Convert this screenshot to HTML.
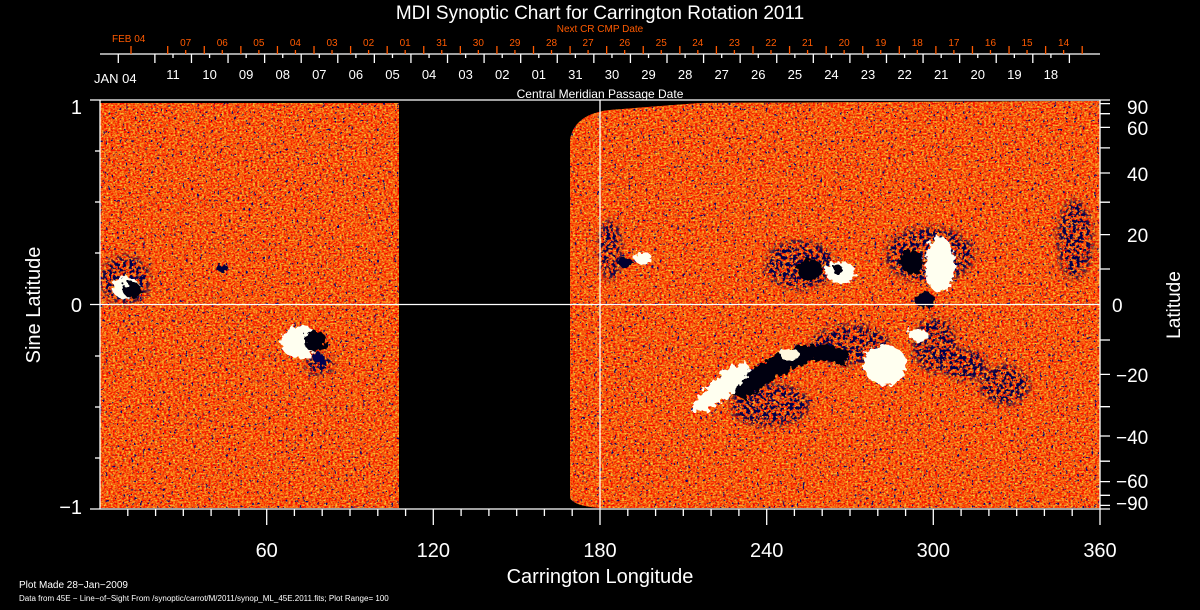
<!DOCTYPE html>
<html><head><meta charset="utf-8"><style>
html,body{margin:0;padding:0;background:#000;}
svg{display:block}
text{font-family:"Liberation Sans",sans-serif;}
filter{color-interpolation-filters:sRGB}
</style></head><body>
<svg width="1200" height="610" viewBox="0 0 1200 610" xmlns="http://www.w3.org/2000/svg">
<defs>
<filter id="tex" x="0" y="0" width="100%" height="100%" color-interpolation-filters="sRGB">
<feTurbulence type="fractalNoise" baseFrequency="0.45 0.6" numOctaves="2" seed="4" result="n"/>
<feColorMatrix in="n" type="matrix" values="0 0 0 0 0.97  1.6 0 0 0 -0.45  0.6 0 0 0 -0.25  0 0 0 0 1"/>
</filter>
<filter id="spk" x="0" y="0" width="100%" height="100%" color-interpolation-filters="sRGB">
<feTurbulence type="fractalNoise" baseFrequency="0.35" numOctaves="2" seed="9" result="n"/>
<feColorMatrix in="n" type="matrix" values="0 0 0 0 0.02  0 0 0 0 0.02  0 0 0 0 0.45  14 0 0 0 -9.35"/>
</filter>
<filter id="spk2" x="0" y="0" width="100%" height="100%" color-interpolation-filters="sRGB">
<feTurbulence type="fractalNoise" baseFrequency="0.3" numOctaves="2" seed="13" result="n"/>
<feColorMatrix in="n" type="matrix" values="0 0 0 0 0.0  0 0 0 0 0.0  0 0 0 0 0.3  12 0 0 0 -5.9"/>
</filter>
<filter id="blob" color-interpolation-filters="sRGB"><feTurbulence type="fractalNoise" baseFrequency="0.2" numOctaves="2" seed="2" result="t"/>
<feDisplacementMap in="SourceGraphic" in2="t" scale="10"/></filter>
<filter id="soft"><feGaussianBlur stdDeviation="3"/></filter>
<mask id="dm">
<g fill="#fff" filter="url(#soft)">
<ellipse cx="935" cy="345" rx="22" ry="28"/>
<ellipse cx="965" cy="365" rx="22" ry="16"/>
<ellipse cx="1005" cy="385" rx="25" ry="20"/>
<ellipse cx="1075" cy="240" rx="18" ry="40"/>
<ellipse cx="770" cy="405" rx="40" ry="22"/>
<ellipse cx="930" cy="255" rx="45" ry="28"/>
<ellipse cx="800" cy="265" rx="35" ry="25"/>
<ellipse cx="610" cy="250" rx="12" ry="30"/>
<ellipse cx="125" cy="280" rx="25" ry="25"/>
<ellipse cx="320" cy="365" rx="15" ry="10"/>
<ellipse cx="850" cy="345" rx="40" ry="20"/>
</g>
</mask>
<clipPath id="map">
<rect x="100" y="103" width="299" height="405"/>
<path d="M570,498 L570,140 Q574,114 610,110 L700,103 L1100,101 L1100,508 L600,508 Q574,506 570,498 Z"/>
</clipPath>
</defs>

<g clip-path="url(#map)">
<rect x="100" y="100" width="1000" height="410" fill="#f25416"/>
<rect x="100" y="100" width="1000" height="410" filter="url(#tex)"/>
<rect x="100" y="100" width="1000" height="410" filter="url(#spk)"/>
<g mask="url(#dm)"><rect x="100" y="100" width="1000" height="410" filter="url(#spk2)"/></g>
<g filter="url(#blob)">
<ellipse cx="126" cy="288" rx="14" ry="11" fill="#fffff0"/>
<ellipse cx="132" cy="290" rx="9" ry="8" fill="#000010"/>
<ellipse cx="300" cy="342" rx="20" ry="16" fill="#fffff0"/>
<circle cx="315" cy="341" r="11" fill="#000010"/>
<ellipse cx="318" cy="358" rx="6" ry="5" fill="#000050"/>
<ellipse cx="222" cy="268" rx="6" ry="4" fill="#000040"/>
<ellipse cx="643" cy="258" rx="9" ry="6" fill="#fffff0"/>
<ellipse cx="625" cy="262" rx="7" ry="5" fill="#000030"/>
<ellipse cx="810" cy="270" rx="13" ry="11" fill="#000010"/>
<ellipse cx="840" cy="272" rx="15" ry="11" fill="#fffff0"/>
<ellipse cx="838" cy="270" rx="5" ry="5" fill="#000010"/>
<ellipse cx="912" cy="262" rx="12" ry="12" fill="#000010"/>
<ellipse cx="940" cy="265" rx="15" ry="28" fill="#fffff0"/>
<ellipse cx="925" cy="300" rx="10" ry="8" fill="#000020"/>
<path d="M690,410 L700,395 L725,370 L745,360 L752,372 L735,392 L705,412 Z" fill="#fffff0"/>
<path d="M733,395 L750,370 L775,355 L800,345 L830,345 L850,352 L845,365 L815,360 L790,370 L765,385 L745,400 Z" fill="#000010"/>
<ellipse cx="885" cy="365" rx="22" ry="20" fill="#fffff0"/>
<ellipse cx="790" cy="355" rx="10" ry="6" fill="#fff8e0"/>
<ellipse cx="918" cy="335" rx="10" ry="6" fill="#fffff0"/>
</g>
</g>

<g stroke="#fff" stroke-width="1.3" fill="none">
<line x1="100" y1="100" x2="100" y2="509"/>
<line x1="1100" y1="100" x2="1100" y2="509"/>
<line x1="90" y1="509" x2="1100" y2="509"/>
<line x1="90" y1="100" x2="1100" y2="100"/>
<line x1="90" y1="304.5" x2="1100" y2="304.5"/>
<line x1="600" y1="100" x2="600" y2="509"/>
<line x1="100" y1="54" x2="1100" y2="54"/>
<line x1="95" y1="151" x2="100" y2="151"/>
<line x1="95" y1="202" x2="100" y2="202"/>
<line x1="95" y1="253" x2="100" y2="253"/>
<line x1="95" y1="356" x2="100" y2="356"/>
<line x1="95" y1="407" x2="100" y2="407"/>
<line x1="95" y1="458" x2="100" y2="458"/>
<path d="M127.8,509v7M155.6,509v7M183.3,509v7M211.1,509v7M238.9,509v7M266.7,509v16M294.4,509v7M322.2,509v7M350,509v7M377.8,509v7M405.6,509v7M433.3,509v16M461.1,509v7M488.9,509v7M516.7,509v7M544.4,509v7M572.2,509v7M600,509v16M627.8,509v7M655.6,509v7M683.3,509v7M711.1,509v7M738.9,509v7M766.7,509v16M794.4,509v7M822.2,509v7M850,509v7M877.8,509v7M905.6,509v7M933.3,509v16M961.1,509v7M988.9,509v7M1016.7,509v7M1044.4,509v7M1072.2,509v7M1100,509v16"/>
<path d="M1100,100h10M1100,103.6h10M1100,113.7h10M1100,127.4h10M1100,147.9h10M1100,173h10M1100,202.2h10M1100,234.6h10M1100,269h10M1100,340h10M1100,374.4h10M1100,406.7h10M1100,436h10M1100,461.2h10M1100,481.6h10M1100,495.3h10M1100,505.4h10M1100,509h10"/>
</g>

<g stroke="#fff" stroke-width="1.3" id="wt"></g>
<g stroke="#ff5a00" stroke-width="1.3" id="ot"></g>

<g fill="#fff">
<text x="600" y="19" font-size="19" text-anchor="middle">MDI Synoptic Chart for Carrington Rotation 2011</text>
<text x="94" y="83" font-size="13">JAN 04</text>
<text x="600" y="98" font-size="12" text-anchor="middle">Central Meridian Passage Date</text>
<text x="82" y="114" font-size="20" text-anchor="end">1</text>
<text x="82" y="312" font-size="20" text-anchor="end">0</text>
<text x="82" y="514" font-size="20" text-anchor="end">−1</text>
<text transform="translate(40,305) rotate(-90)" font-size="20" text-anchor="middle">Sine Latitude</text>
<text transform="translate(1180,305) rotate(-90)" font-size="19" text-anchor="middle">Latitude</text>
<g font-size="20" text-anchor="middle">
<text x="266.7" y="557">60</text><text x="433.3" y="557">120</text><text x="600" y="557">180</text>
<text x="766.7" y="557">240</text><text x="933.3" y="557">300</text><text x="1100" y="557">360</text>
</g>
<text x="600" y="583" font-size="20" text-anchor="middle">Carrington Longitude</text>
<g font-size="19">
<text x="1127" y="114">90</text><text x="1127" y="135">60</text><text x="1127" y="181">40</text>
<text x="1127" y="242">20</text><text x="1112" y="312">0</text><text x="1116" y="382">−20</text>
<text x="1116" y="444">−40</text><text x="1116" y="488">−60</text><text x="1116" y="510">−90</text>
</g>
<text x="19" y="588" font-size="10">Plot Made 28−Jan−2009</text>
<text x="19" y="601" font-size="8">Data from 45E − Line−of−Sight From /synoptic/carrot/M/2011/synop_ML_45E.2011.fits; Plot Range=  100</text>
</g>
<g fill="#ff5a00">
<text x="600" y="32" font-size="10" text-anchor="middle">Next CR CMP Date</text>
<text x="112" y="42" font-size="10">FEB 04</text>
</g>
<g id="wl" fill="#fff" font-size="13" text-anchor="middle"></g>
<g id="ol" fill="#ff5a00" font-size="10" text-anchor="middle"></g>
</svg>
<script>
var NS="http://www.w3.org/2000/svg";
function el(p,t,a,txt){var e=document.createElementNS(NS,t);for(var k in a)e.setAttribute(k,a[k]);if(txt)e.textContent=txt;document.getElementById(p).appendChild(e);}
var s=36.58;
for(var i=0;i<=26;i++){var x=118.3+i*s;el("wt","line",{x1:x,y1:54,x2:x,y2:63});}
for(var i=0;i<25;i++){var x=173+i*s;el("wt","line",{x1:x,y1:54,x2:x,y2:58});}
el("ot","line",{x1:131,y1:46,x2:131,y2:54});
for(var i=0;i<=25;i++){var x=167.7+i*s;el("ot","line",{x1:x,y1:46,x2:x,y2:54});}
for(var i=0;i<25;i++){var x=185.7+i*s;el("ot","line",{x1:x,y1:50,x2:x,y2:54});}
var wl=["11","10","09","08","07","06","05","04","03","02","01","31","30","29","28","27","26","25","24","23","22","21","20","19","18"];
var ol=["07","06","05","04","03","02","01","31","30","29","28","27","26","25","24","23","22","21","20","19","18","17","16","15","14"];
for(var i=0;i<25;i++){el("wl","text",{x:173+i*s,y:79},wl[i]);el("ol","text",{x:185.7+i*s,y:46},ol[i]);}
</script>
</body></html>
